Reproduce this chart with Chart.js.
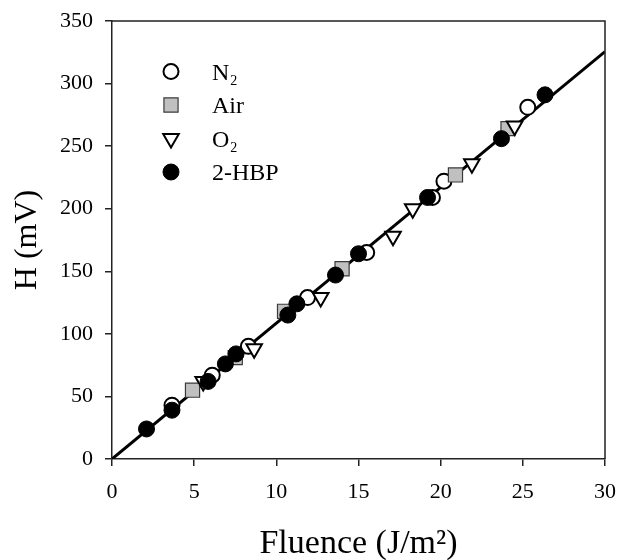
<!DOCTYPE html>
<html>
<head>
<meta charset="utf-8">
<script src="https://cdn.jsdelivr.net/npm/chart.js@4/dist/chart.umd.min.js"></script>
<style>
  html, body { margin: 0; padding: 0; background: #fff; }
  #wrap { width: 618px; height: 560px; position: relative; }
</style>
</head>
<body>
<div id="wrap"><canvas id="c" width="618" height="560"></canvas></div>
<script>
// ---- data ----
const xTicks = [0, 5, 10, 15, 20, 25, 30];
const yTicks = [0, 50, 100, 150, 200, 250, 300, 350];

const seriesNames = ["N2", "Air", "O2", "2-HBP"];

const n2X  = [3.65, 6.1, 8.3, 11.9, 15.5, 19.5, 20.2, 25.3];
const n2Y  = [43, 67, 90, 129, 165, 209, 222, 281];

const airX = [4.9, 7.5, 10.5, 14.0, 20.9, 24.1];
const airY = [55, 81, 118, 152, 227, 264];

const o2X  = [5.55, 8.65, 12.7, 17.1, 18.3, 21.9, 24.5];
const o2Y  = [62, 88, 129, 178, 200, 236, 266];

const hbpX = [2.1, 3.65, 5.85, 6.9, 7.55, 10.7, 11.25, 13.6, 15.0, 19.2, 23.7, 26.35];
const hbpY = [24, 39, 62, 76, 84, 115, 124, 147, 164, 209, 256, 291];

const fitX = [0, 30];
const fitY = [0, 325.5];

// ---- helpers ----
const toPts = (xs, ys) => xs.map((x, i) => ({ x: x, y: ys[i] }));
const SERIF = "'Liberation Serif', 'Times New Roman', serif";

const styles = [
  { pointStyle: 'circle',   radius: 7.5, rotation: 0,   bg: '#ffffff', border: '#000000', bw: 2 },
  { pointStyle: 'rect',     radius: 10,  rotation: 0,   bg: '#c0c0c0', border: '#3a3a3a', bw: 1.2 },
  { pointStyle: 'triangle', radius: 9,   rotation: 180, bg: '#ffffff', border: '#000000', bw: 2 },
  { pointStyle: 'circle',   radius: 8,   rotation: 0,   bg: '#000000', border: '#000000', bw: 1 }
];

const seriesData = [toPts(n2X, n2Y), toPts(airX, airY), toPts(o2X, o2Y), toPts(hbpX, hbpY)];

const datasets = [
  {
    type: 'line',
    label: 'fit',
    data: toPts(fitX, fitY),
    borderColor: '#000',
    borderWidth: 3,
    pointRadius: 0,
    fill: false,
    order: 10
  }
];
seriesNames.forEach((name, i) => {
  const s = styles[i];
  datasets.push({
    type: 'scatter',
    label: name,
    data: seriesData[i],
    pointStyle: s.pointStyle,
    pointRadius: s.radius,
    pointRotation: s.rotation,
    pointBackgroundColor: s.bg,
    pointBorderColor: s.border,
    pointBorderWidth: s.bw,
    pointHoverRadius: s.radius,
    order: 5 - i
  });
});

const zeroPad = (sc) => { sc.paddingTop = 0; sc.paddingBottom = 0; sc.paddingLeft = 0; sc.paddingRight = 0; };

// frame + legend plugin
const framePlugin = {
  id: 'frame',
  afterDatasetsDraw(chart) {
    const { ctx, chartArea: a } = chart;
    ctx.save();
    ctx.strokeStyle = '#222';
    ctx.lineWidth = 1.5;
    ctx.beginPath();
    ctx.moveTo(a.left, a.top);
    ctx.lineTo(a.right, a.top);
    ctx.lineTo(a.right, a.bottom);
    ctx.stroke();
    ctx.restore();
  },
  afterDraw(chart) {
    const { ctx } = chart;
    const rowsY = [71.5, 105, 138.5, 172];
    const mx = 171, tx = 212;
    ctx.save();
    seriesNames.forEach((name, i) => {
      const s = styles[i];
      const y = rowsY[i];
      ctx.fillStyle = s.bg;
      ctx.strokeStyle = s.border;
      ctx.lineWidth = s.bw;
      Chart.helpers.drawPoint(ctx, { pointStyle: s.pointStyle, radius: s.radius, rotation: s.rotation, borderWidth: s.bw }, mx, y);
      ctx.fillStyle = '#000';
      ctx.textBaseline = 'alphabetic';
      ctx.textAlign = 'left';
      const base = y + 8;
      if (name === 'N2' || name === 'O2') {
        const main = name.charAt(0);
        ctx.font = '24px ' + SERIF;
        ctx.fillText(main, tx, base);
        const w = ctx.measureText(main).width;
        ctx.font = '14px ' + SERIF;
        ctx.fillText('2', tx + w + 1, base + 5);
      } else {
        ctx.font = '24px ' + SERIF;
        ctx.fillText(name, tx, base);
      }
    });
    ctx.restore();
  }
};

new Chart(document.getElementById('c'), {
  data: { datasets: datasets },
  options: {
    responsive: false,
    animation: false,
    devicePixelRatio: 1,
    layout: { padding: { left: 0, right: 13, top: 21, bottom: 0 } },
    plugins: {
      legend: { display: false },
      tooltip: { enabled: false }
    },
    scales: {
      x: {
        type: 'linear',
        min: 0, max: 30,
        afterBuildTicks: (sc) => { sc.ticks = xTicks.map(v => ({ value: v })); },
        afterFit: (sc) => { sc.height = 101; zeroPad(sc); },
        ticks: {
          color: '#000',
          font: { family: SERIF, size: 22 },
          padding: 13,
          maxRotation: 0,
          callback: (v) => String(v)
        },
        grid: { drawOnChartArea: false, drawTicks: true, tickLength: 7, color: '#222', lineWidth: 1.5 },
        border: { display: true, color: '#222', width: 1.5 },
        title: {
          display: true,
          text: 'Fluence (J/m\u00B2)',
          color: '#000',
          font: { family: SERIF, size: 34, lineHeight: 0.82 },
          padding: { top: 0, bottom: 2 }
        }
      },
      y: {
        type: 'linear',
        min: 0, max: 350,
        afterBuildTicks: (sc) => { sc.ticks = yTicks.map(v => ({ value: v })); },
        afterFit: (sc) => { sc.width = 112; zeroPad(sc); },
        ticks: {
          color: '#000',
          font: { family: SERIF, size: 22 },
          padding: 12,
          callback: (v) => String(v)
        },
        grid: { drawOnChartArea: false, drawTicks: true, tickLength: 7, color: '#222', lineWidth: 1.5 },
        border: { display: true, color: '#222', width: 1.5 },
        title: {
          display: true,
          text: 'H (mV)',
          color: '#000',
          font: { family: SERIF, size: 32, lineHeight: 1.2 },
          padding: { top: 8, bottom: 0 }
        }
      }
    }
  },
  plugins: [framePlugin]
});
</script>
</body>
</html>
